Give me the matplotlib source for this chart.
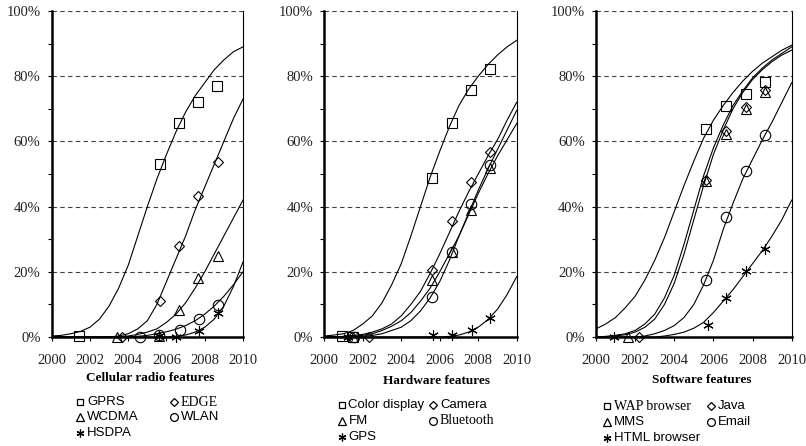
import matplotlib.pyplot as plt
from matplotlib.lines import Line2D
from matplotlib.ticker import MultipleLocator, FuncFormatter

curve_years = [2000, 2000.5, 2001, 2001.5, 2002, 2002.5, 2003, 2003.5, 2004, 2004.5, 2005,
               2005.5, 2006, 2006.5, 2007, 2007.5, 2008, 2008.5, 2009, 2009.5, 2010]

# ---- Cellular radio features ----
gprs_x = [2001.45, 2005.65, 2006.65, 2007.65, 2008.65]
gprs_y = [0.2, 53.2, 65.5, 72.0, 77.1]
gprs_curve = [0.3, 0.5, 1, 1.7, 3, 5.5, 9.5, 15, 22, 31, 40, 48.5, 56, 63, 69, 74, 78, 82, 85, 87.5, 89]

edge_x = [2003.65, 2005.65, 2006.66, 2007.67, 2008.7]
edge_y = [0.0, 11.0, 28.0, 43.3, 53.8]
edge_curve = [0, 0, 0, 0, 0, 0, 0, 0.3, 1, 2.5, 5, 10, 17, 24, 31, 39, 46, 53, 60, 67, 73]

wcdma_x = [2003.4, 2005.6, 2006.66, 2007.67, 2008.7]
wcdma_y = [0.0, 0.3, 8.2, 18.0, 24.8]
wcdma_curve = [0, 0, 0, 0, 0, 0, 0, 0, 0.3, 0.8, 1.5, 2.5, 4.5, 7, 10.5, 15, 20, 25.5, 31, 36.5, 42]

wlan_x = [2004.6, 2005.6, 2006.7, 2007.7, 2008.7]
wlan_y = [0.0, 0.5, 2.0, 5.4, 9.7]
wlan_curve = [0, 0, 0, 0, 0, 0, 0, 0, 0, 0.2, 0.5, 1, 1.6, 2.4, 3.5, 5, 7, 9.5, 12.5, 16, 20]

hsdpa_x = [2005.6, 2006.5, 2007.7, 2008.7]
hsdpa_y = [0.3, 0.0, 1.7, 7.4]
hsdpa_curve = [0, 0, 0, 0, 0, 0, 0, 0, 0, 0, 0, 0, 0, 0.2, 0.6, 1.5, 3, 5.5, 9.5, 15.5, 23]

# ---- Hardware features ----
color_x = [2000.9, 2001.5, 2005.6, 2006.62, 2007.63, 2008.6]
color_y = [0.3, 0.0, 48.9, 65.5, 75.7, 82.1]
color_curve = [0.3, 0.6, 1, 2, 4, 6.5, 10.5, 16, 22.5, 31, 40, 49, 57, 64.5, 71, 76, 80, 83.5, 86.5, 89, 91]

camera_x = [2002.34, 2005.6, 2006.62, 2007.63, 2008.6]
camera_y = [0.0, 20.5, 35.6, 47.4, 56.8]
camera_curve = [0, 0, 0.2, 0.5, 0.8, 1.5, 2.5, 4, 6.5, 10, 14, 19.5, 25.5, 32, 38.5, 44.5, 50, 55.5, 60.5, 66.5, 72]

fm_x = [2001.5, 2005.6, 2006.62, 2007.63, 2008.6]
fm_y = [0.0, 17.4, 26.0, 38.9, 51.7]
fm_curve = [0, 0, 0, 0.2, 0.5, 1, 2, 3.3, 5, 7.5, 11, 15, 20, 25.5, 31, 37.5, 44, 50, 55.5, 60.5, 65.5]

bluetooth_x = [2001.55, 2005.6, 2006.62, 2007.63, 2008.6]
bluetooth_y = [0.0, 12.3, 26.1, 40.7, 52.7]
bluetooth_curve = [0, 0, 0, 0, 0.2, 0.5, 1, 2, 3, 5, 8, 12, 17, 23.5, 31, 38, 45, 51.5, 57.5, 63.5, 69.5]

gps_x = [2001.25, 2005.63, 2006.62, 2007.66, 2008.6]
gps_y = [0.0, 0.5, 0.5, 2.2, 5.8]
gps_curve = [0, 0, 0, 0, 0, 0, 0, 0, 0, 0, 0, 0, 0, 0.2, 0.6, 1.5, 3, 5.3, 8.5, 13, 18.5]

# ---- Software features ----
wap_x = [2005.62, 2006.63, 2007.65, 2008.65]
wap_y = [63.7, 70.8, 74.5, 78.1]
wap_curve = [2.5, 4, 6, 9, 12.5, 17.5, 23.5, 30.5, 38.5, 46.5, 54, 61, 66.5, 71, 75, 78.5, 81.5, 84, 86, 88, 89.5]

java_x = [2002.2, 2005.62, 2006.63, 2007.65, 2008.65]
java_y = [0.0, 48.3, 63.3, 70.6, 75.7]
java_curve = [0, 0.2, 0.5, 1, 2, 4, 7, 12, 19, 28.5, 39, 49.5, 58, 65, 71, 75.5, 79.5, 82.5, 85, 87, 89]

mms_x = [2001.65, 2005.62, 2006.63, 2007.65, 2008.65]
mms_y = [0.0, 48.0, 62.4, 69.9, 75.2]
mms_curve = [0, 0.1, 0.3, 0.7, 1.5, 3, 5.5, 10, 16.5, 25.5, 36, 46.5, 56, 63.5, 70, 75, 79, 82, 84.5, 86.5, 88]

email_x = [2005.62, 2006.63, 2007.65, 2008.65]
email_y = [17.6, 36.8, 51.0, 61.9]
email_curve = [0, 0, 0, 0, 0, 0.3, 1, 2, 3.5, 6, 10, 16, 23.5, 33, 41, 48.5, 54.5, 60.5, 66, 72, 78]

html_x = [2000.9, 2005.7, 2006.64, 2007.65, 2008.65]
html_y = [0.0, 3.6, 12.0, 20.2, 26.9]
html_curve = [0, 0, 0, 0, 0, 0, 0, 0.3, 0.8, 1.5, 2.7, 4.5, 7.5, 11, 14.5, 18.5, 22.5, 26.5, 31, 36, 42]

titles = ['Cellular radio features', 'Hardware features', 'Software features']
year_ticks = [2000, 2002, 2004, 2006, 2008, 2010]

SERIF = ['Liberation Serif', 'DejaVu Serif']
SANS = ['Liberation Sans', 'DejaVu Sans']
STAR = (6, 2, 0)

# (label, x, y, curve, marker, legend font)
panels = [
    [('GPRS', gprs_x, gprs_y, gprs_curve, 's', SANS),
     ('WCDMA', wcdma_x, wcdma_y, wcdma_curve, '^', SANS),
     ('HSDPA', hsdpa_x, hsdpa_y, hsdpa_curve, STAR, SANS),
     ('EDGE', edge_x, edge_y, edge_curve, 'D', SERIF),
     ('WLAN', wlan_x, wlan_y, wlan_curve, 'o', SANS)],
    [('Color display', color_x, color_y, color_curve, 's', SANS),
     ('FM', fm_x, fm_y, fm_curve, '^', SANS),
     ('GPS', gps_x, gps_y, gps_curve, STAR, SANS),
     ('Camera', camera_x, camera_y, camera_curve, 'D', SANS),
     ('Bluetooth', bluetooth_x, bluetooth_y, bluetooth_curve, 'o', SERIF)],
    [('WAP browser', wap_x, wap_y, wap_curve, 's', SERIF),
     ('MMS', mms_x, mms_y, mms_curve, '^', SANS),
     ('HTML browser', html_x, html_y, html_curve, STAR, SANS),
     ('Java', java_x, java_y, java_curve, 'D', SANS),
     ('Email', email_x, email_y, email_curve, 'o', SANS)],
]

marker_size = {'s': 6.5, '^': 7.0, 'D': 5.5, 'o': 7.5, STAR: 7.5}

W, H = 806, 446
fig = plt.figure(figsize=(W / 100, H / 100), dpi=100)

# axes boxes in pixels: left, right
ax_px = [(51.7, 243.0), (324.3, 516.7), (596.0, 791.7)]
top_px, bot_px = 11, 337
title_px = [(150, 378), (437, 381), (702, 380)]
# legend: (col1 marker x, col2 marker x, row y's)
leg_px = [(80, 174, [402, 417, 433]),
          (341.5, 433, [405, 421, 437]),
          (607, 711, [406, 422, 438])]

for i, series in enumerate(panels):
    l, r = ax_px[i]
    ax = fig.add_axes([l / W, 1 - bot_px / H, (r - l) / W, (bot_px - top_px) / H])
    for label, xs, ys, curve, mk, fnt in series:
        ax.plot(curve_years, curve, color='black', lw=0.8, zorder=2)
        ax.plot(xs, ys, linestyle='none', marker=mk, ms=marker_size[mk],
                mfc='none', mec='black', mew=0.8, clip_on=False, zorder=3)
    ax.set_xlim(2000, 2010)
    ax.set_ylim(0, 100)
    ax.set_xticks(year_ticks)
    ax.yaxis.set_major_locator(MultipleLocator(20))
    ax.yaxis.set_minor_locator(MultipleLocator(10))
    ax.yaxis.set_major_formatter(FuncFormatter(lambda v, p: f'{v:.0f}%'))
    ax.grid(axis='y', which='major', linestyle=(0, (4, 3)), color='#404040', lw=0.8)
    ax.tick_params(axis='both', which='both', direction='out', length=3, width=0.8,
                   labelsize=10.5, colors='black')
    ax.tick_params(axis='y', which='major', pad=5)
    ax.tick_params(axis='x', which='major', pad=9)
    for t in ax.get_xticklabels() + ax.get_yticklabels():
        t.set_family(SERIF)
        t.set_color('#222222')
    ax.spines['top'].set_visible(False)
    ax.spines['left'].set_linewidth(1.8)
    ax.spines['bottom'].set_linewidth(1.8)
    ax.spines['right'].set_linewidth(0.8)

    tx, ty = title_px[i]
    fig.text(tx / W, 1 - ty / H, titles[i], ha='center', va='center',
             fontsize=9.5, fontweight='bold', family=SERIF)

    c1, c2, rows = leg_px[i]
    slots = [(c1, rows[0]), (c1, rows[1]), (c1, rows[2]), (c2, rows[0]), (c2, rows[1])]
    for (label, xs, ys, curve, mk, fnt), (mx, my) in zip(series, slots):
        fig.add_artist(Line2D([mx / W], [1 - my / H], marker=mk, ms=marker_size[mk] * 0.75,
                              mfc='none', mec='black', mew=0.9, linestyle='none',
                              transform=fig.transFigure))
        fig.text((mx + 7) / W, 1 - my / H, label, ha='left', va='center',
                 fontsize=10 if fnt is SERIF else 9.5, family=fnt)

fig.savefig('out.png', dpi=100)
